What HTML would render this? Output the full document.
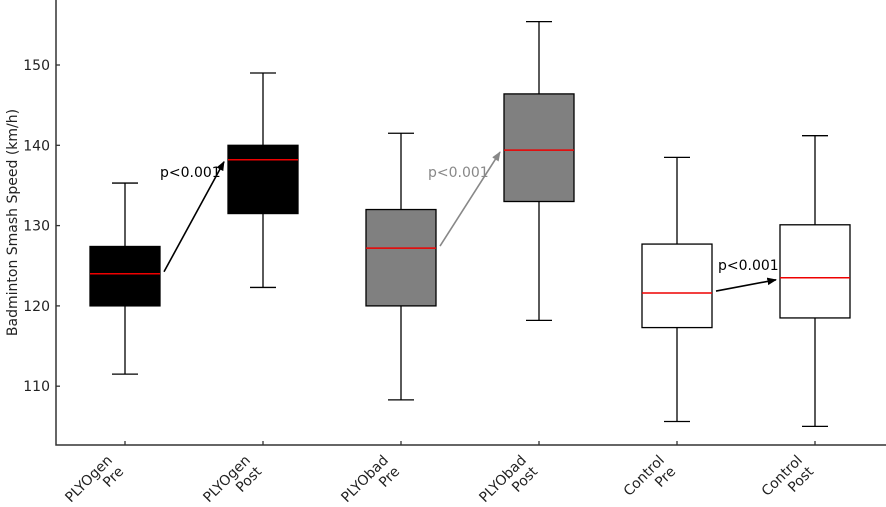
<!DOCTYPE html>
<html><head><meta charset="utf-8"><style>
body{margin:0;background:#fff;}
svg{display:block;font-family:"DejaVu Sans","Liberation Sans",sans-serif;}
</style></head><body>
<svg id="chart" width="886" height="507"></svg>
<script>
const categories=[["PLYOgen","Pre"],["PLYOgen","Post"],["PLYObad","Pre"],["PLYObad","Post"],["Control","Pre"],["Control","Post"]];
const whiskerLow=[111.5,122.3,108.3,118.2,105.6,105];
const q1=[120,131.5,120,133,117.3,118.5];
const median=[124,138.2,127.2,139.4,121.6,123.5];
const q3=[127.4,140,132,146.4,127.7,130.1];
const whiskerHigh=[135.3,149,141.5,155.4,138.5,141.2];
const fills=["#000","#000","#808080","#808080","#fff","#fff"];
const yTicks=[110,120,130,140,150];
const annotations=[{from:0,to:1,text:"p<0.001",color:"#000",dx:35,ty:177},{from:2,to:3,text:"p<0.001",color:"#888",dx:27,ty:177},{from:4,to:5,text:"p<0.001",color:"#000",dx:41,ty:270}];

const NS="http://www.w3.org/2000/svg";
const svgEl=document.getElementById('chart');
const plotLeft=56,plotBottom=445,plotTop=0;
const xc=i=>125+i*138;
const yScale=v=>65+(150-v)*8.03;
function mk(t,a,p){const e=document.createElementNS(NS,t);for(const k in a)e.setAttribute(k,a[k]);(p||svgEl).appendChild(e);return e;}
const defs=mk('defs',{});
['k','g'].forEach((id,j)=>{const m=mk('marker',{id:'ar'+id,viewBox:'0 0 10 10',refX:9,refY:5,markerWidth:6,markerHeight:6,orient:'auto'},defs);mk('path',{d:'M0,1 L10,5 L0,9 Z',fill:j?'#888':'#000'},m);});

const axes=mk('path',{d:`M${plotLeft},${plotTop} V${plotBottom} H886`,stroke:'#333',fill:'none','stroke-width':1.5});


yTicks.forEach(t=>{
 const l=mk('line',{x1:plotLeft,x2:plotLeft+4,y1:yScale(t),y2:yScale(t),stroke:'#333','stroke-width':1.3});
 
 
 const tx=mk('text',{x:plotLeft-6,y:yScale(t)+5,'text-anchor':'end','font-size':14,fill:'#222'});tx.textContent=t;
 
 
});
const yt=mk('text',{transform:`translate(17,${(plotTop+plotBottom)/2}) rotate(-90)`,'text-anchor':'middle','font-size':14,fill:'#222'});
yt.textContent='Badminton Smash Speed (km/h)';



categories.forEach((c,i)=>{
 const x=xc(i),w=70;
 const g=mk('g',{});
 
 
 mk('line',{x1:x,x2:x,y1:yScale(whiskerHigh[i]),y2:yScale(q3[i]),stroke:'#000','stroke-width':1.3},g);
 mk('line',{x1:x,x2:x,y1:yScale(q1[i]),y2:yScale(whiskerLow[i]),stroke:'#000','stroke-width':1.3},g);
 mk('line',{x1:x-13,x2:x+13,y1:yScale(whiskerHigh[i]),y2:yScale(whiskerHigh[i]),stroke:'#000','stroke-width':1.3},g);
 mk('line',{x1:x-13,x2:x+13,y1:yScale(whiskerLow[i]),y2:yScale(whiskerLow[i]),stroke:'#000','stroke-width':1.3},g);
 mk('rect',{x:x-w/2,y:yScale(q3[i]),width:w,height:yScale(q1[i])-yScale(q3[i]),fill:fills[i],stroke:'#000','stroke-width':1.3},g);
 mk('line',{x1:x-w/2,x2:x+w/2,y1:yScale(median[i]),y2:yScale(median[i]),stroke:'#e00','stroke-width':1.5},g);
 const tk=mk('line',{x1:x,x2:x,y1:plotBottom,y2:plotBottom-4,stroke:'#333','stroke-width':1.3});
 
 
 const tx=mk('text',{transform:`translate(${x-12},${plotBottom+16}) rotate(-45)`,'text-anchor':'end','font-size':14,fill:'#222'});
 
 
 mk('tspan',{x:0,dy:0},tx).textContent=c[0];
 mk('tspan',{x:0,dy:16},tx).textContent=c[1];
});

annotations.forEach(a=>{
 const x1=xc(a.from)+39,y1=yScale(median[a.from])-2,x2=xc(a.to)-39,y2=yScale(median[a.to])+2;
 const l=mk('line',{x1,y1,x2,y2,stroke:a.color,'stroke-width':1.6,'marker-end':'url(#ar'+(a.color=='#000'?'k':'g')+')'});
 
 
 const t=mk('text',{x:xc(a.from)+a.dx,y:a.ty,'font-size':14,fill:a.color});t.textContent=a.text;
 
 
});
</script>
</body></html>
